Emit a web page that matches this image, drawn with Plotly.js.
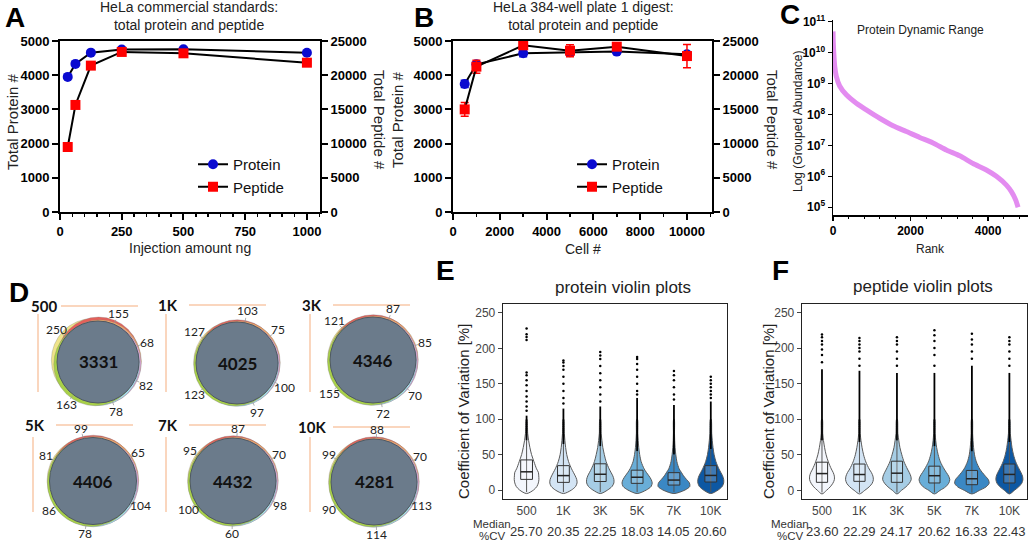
<!DOCTYPE html>
<html><head><meta charset="utf-8">
<script src="https://cdn.plot.ly/plotly-3.0.1.min.js"></script>
<style>html,body{margin:0;padding:0;background:#fff}#chart{width:1032px;height:542px}</style>
</head><body><div id="chart"></div>
<script>
// ================= DATA =================
// Panel A: HeLa commercial standards
const injectionNg = [31.25, 62.5, 125, 250, 500, 1000];
const proteinA = [3950, 4330, 4660, 4750, 4760, 4655];
const peptideA = [9500, 15650, 21400, 23400, 23200, 21830];
// Panel B: HeLa 384-well plate 1 digest
const cellCounts = [500, 1000, 3000, 5000, 7000, 10000];
const proteinB = [3745, 4318, 4640, 4670, 4690, 4610];
const proteinBErr = [105, 70, 100, 110, 60, 60];
const peptideB = [15000, 21250, 24370, 23580, 24170, 22800];
const peptideBErr = [1000, 950, 250, 880, 250, 1700];
// tick labels for A/B
const peptideTicks = [0, 5000, 10000, 15000, 20000, 25000];
const peptideTickText = ['0', '5000', '10000', '15000', '20000', '25000'];
const cellTicks = [0, 2000, 4000, 6000, 8000, 10000];
const cellTickText = ['0', '2000', '4000', '6000', '8000', '10000'];
// Panel C: protein dynamic range
const rankC = [1, 8, 20, 45, 86, 172, 344, 602, 860, 1204, 1548, 1892, 2237, 2581, 2925, 3269, 3613, 3957, 4215, 4473, 4602, 4714, 4774];
const abundanceC = [4.8e10, 2.0e10, 9.5e9, 3.5e9, 1.7e9, 8.3e8, 4.3e8, 2.3e8, 1.4e8, 7.5e7, 4.3e7, 2.8e7, 1.8e7, 1.2e7, 7.1e6, 4.6e6, 2.6e6, 1.6e6, 1.0e6, 5.2e5, 3.2e5, 1.7e5, 1.0e5];
const logTickVals = [1e5, 1e6, 1e7, 1e8, 1e9, 1e10, 1e11];
const logTickText = ['10<sup>5</sup>', '10<sup>6</sup>', '10<sup>7</sup>', '10<sup>8</sup>', '10<sup>9</sup>', '10<sup>10</sup>', '10<sup>11</sup>'];
// Panel D: Venn counts (order: yellow, red, orange, pink, cyan, green replicate)
const vennSamples = ['500', '1K', '3K', '5K', '7K', '10K'];
const vennShared = [3331, 4025, 4346, 4406, 4432, 4281];
const vennUnique = [
  [250, 155, 68, 82, 78, 163],
  [127, 103, 75, 100, 97, 123],
  [121, 87, 85, 70, 72, 155],
  [81, 99, 65, 104, 78, 86],
  [95, 87, 70, 98, 60, 100],
  [99, 88, 70, 113, 114, 90]
];
// Panels E/F: CV violins
const cvCats = ['500', '1K', '3K', '5K', '7K', '10K'];
const cvGrid = [-5, 0, 5, 10, 15, 20, 25, 30, 40, 50, 60, 70, 80, 100];
const protViolinW = [
  [0, .19, .28, .32, .335, .33, .32, .27, .2, .135, .09, .055, .03, .01],
  [0, .22, .33, .37, .36, .32, .27, .22, .14, .09, .06, .04, .025, .01],
  [0, .2, .32, .37, .37, .34, .29, .24, .16, .11, .07, .045, .025, .01],
  [0, .25, .38, .41, .38, .32, .25, .19, .11, .07, .045, .03, .02, .01],
  [0, .3, .43, .42, .34, .26, .2, .14, .08, .05, .03, .02, .015, .008],
  [0, .2, .31, .35, .35, .32, .27, .22, .14, .09, .06, .04, .025, .01]
];
const protQ1 = [15, 10.8, 12, 9.4, 7, 11.3];
const protQ3 = [42.5, 34.4, 37, 28, 24.5, 34.4];
const protMedian = [25.70, 20.35, 22.25, 18.03, 14.05, 20.60];
const protDenseLo = [70, 65, 62, 55, 50, 58];
const protDenseHi = [105, 115, 118, 130, 120, 125];
const protOutliers = [
  [112, 118, 125, 132, 140, 148, 155, 162, 166, 212, 216, 220, 228],
  [122, 130, 140, 150, 160, 170, 175, 180, 183],
  [125, 135, 145, 155, 165, 175, 185, 190, 195],
  [135, 140, 150, 160, 170, 178, 185, 188],
  [128, 135, 145, 155, 162, 168],
  [130, 135, 140, 145, 150, 155, 160]
];
const pepViolinW = [
  [0, .12, .22, .29, .33, .33, .3, .25, .17, .11, .07, .04, .02, .01],
  [0, .14, .26, .34, .37, .36, .32, .26, .17, .11, .07, .04, .02, .01],
  [0, .12, .24, .33, .38, .37, .33, .28, .19, .13, .08, .05, .025, .01],
  [0, .15, .3, .38, .41, .38, .32, .26, .16, .1, .06, .035, .02, .01],
  [0, .2, .38, .46, .44, .36, .28, .21, .12, .07, .045, .03, .02, .01],
  [0, .13, .25, .33, .36, .35, .31, .26, .17, .11, .07, .045, .025, .01]
];
const pepQ1 = [11.3, 12.7, 11.3, 10.4, 8, 10.4];
const pepQ3 = [39.6, 37, 41, 34, 28, 37];
const pepMedian = [23.60, 22.29, 24.17, 20.62, 16.33, 22.43];
const pepDenseLo = [70, 68, 70, 62, 55, 68];
const pepDenseHi = [170, 168, 165, 165, 175, 165];
const pepOutliers = [
  [180, 190, 198, 205, 210, 215, 219],
  [175, 185, 195, 200, 205, 210, 214],
  [175, 185, 195, 205, 210, 215],
  [175, 190, 200, 210, 218, 225],
  [185, 195, 205, 212, 220],
  [175, 185, 195, 205, 210, 215]
];

// ================= STYLE / LAYOUT =================
const W = 1032, H = 542;
const FONT = 'Arial, "Liberation Sans", sans-serif';
const VFONT = 'Lato, "Open Sans", sans-serif';
const px = v => v / W, py = v => 1 - v / H;
const violinColors = ['#f3f6fc', '#d3e4f4', '#a6cde5', '#69aed8', '#3b88c4', '#0d58a3'];

const traces = [];
// A
traces.push({type:'scatter', mode:'lines+markers', name:'Protein', x:injectionNg, y:proteinA, xaxis:'x', yaxis:'y',
  line:{color:'#000', width:2}, marker:{symbol:'circle', size:10, color:'#0a0ad0'}, legend:'legend'});
traces.push({type:'scatter', mode:'lines+markers', name:'Peptide', x:injectionNg, y:peptideA, xaxis:'x', yaxis:'y2',
  line:{color:'#000', width:2}, marker:{symbol:'square', size:10, color:'#ff0000'}, legend:'legend'});
// B
traces.push({type:'scatter', mode:'lines+markers', name:'Protein', x:cellCounts, y:proteinB, xaxis:'x2', yaxis:'y3',
  error_y:{type:'data', array:proteinBErr, color:'#0a0ad0', thickness:1.5, width:4},
  line:{color:'#000', width:2}, marker:{symbol:'circle', size:10, color:'#0a0ad0'}, legend:'legend2'});
traces.push({type:'scatter', mode:'lines+markers', name:'Peptide', x:cellCounts, y:peptideB, xaxis:'x2', yaxis:'y4',
  error_y:{type:'data', array:peptideBErr, color:'#ff0000', thickness:1.5, width:4},
  line:{color:'#000', width:2}, marker:{symbol:'square', size:10, color:'#ff0000'}, legend:'legend2'});
// C
traces.push({type:'scatter', mode:'lines', x:rankC, y:abundanceC, xaxis:'x3', yaxis:'y5', showlegend:false,
  line:{color:'#e38cf0', width:5, shape:'spline', smoothing:0.6}});

function addViolins(xa, ya, Wd, q1, q3, med, dLo, dHi, outl, bhw) {
  for (let i = 0; i < cvCats.length; i++) {
    const xs = [], ys = [];
    cvGrid.forEach((y, k) => { xs.push(i + Wd[i][k]); ys.push(y); });
    for (let k = cvGrid.length - 1; k >= 0; k--) { xs.push(i - Wd[i][k]); ys.push(cvGrid[k]); }
    traces.push({type:'scatter', mode:'lines', x:xs, y:ys, fill:'toself', fillcolor:violinColors[i],
      line:{color:'#5a5a5a', width:1, shape:'spline', smoothing:0.8}, xaxis:xa, yaxis:ya, showlegend:false});
    traces.push({type:'scatter', mode:'lines', x:[i, i], y:[-3, dLo[i]], line:{color:'#555', width:1},
      xaxis:xa, yaxis:ya, showlegend:false});
    traces.push({type:'scatter', mode:'lines', x:[i, i], y:[dLo[i], dHi[i]], line:{color:'#000', width:1.8},
      xaxis:xa, yaxis:ya, showlegend:false});
    traces.push({type:'scatter', mode:'markers', x:outl[i].map(() => i), y:outl[i], marker:{color:'#000', size:2.5},
      xaxis:xa, yaxis:ya, showlegend:false});
    traces.push({type:'scatter', mode:'lines', x:[i-bhw, i+bhw, i+bhw, i-bhw, i-bhw], y:[q1[i], q1[i], q3[i], q3[i], q1[i]],
      fill:'toself', fillcolor:'rgba(255,255,255,0.2)', line:{color:'#333', width:1}, xaxis:xa, yaxis:ya, showlegend:false});
    traces.push({type:'scatter', mode:'lines', x:[i-bhw, i+bhw], y:[med[i], med[i]], line:{color:'#222', width:1.5},
      xaxis:xa, yaxis:ya, showlegend:false});
  }
}
addViolins('x4', 'y6', protViolinW, protQ1, protQ3, protMedian, protDenseLo, protDenseHi, protOutliers, 0.16);
addViolins('x5', 'y7', pepViolinW, pepQ1, pepQ3, pepMedian, pepDenseLo, pepDenseHi, pepOutliers, 0.15);

// axes
const bold13 = {family:FONT, size:13, weight:'bold', color:'#000'};
const baseAx = {showgrid:false, zeroline:false, showline:true, linecolor:'#000', linewidth:2, ticks:'outside',
  ticklen:6, tickwidth:2, tickcolor:'#000', tickfont:bold13, fixedrange:true};
const yDomAB = [py(212), py(41)];
const cvAx = {showgrid:false, zeroline:false, showline:true, linecolor:'#222', linewidth:1.3, mirror:true,
  ticks:'outside', ticklen:4, tickwidth:1, tickcolor:'#444', tickfont:{family:FONT, size:12, color:'#444'}};

const layout = {
  width:W, height:H, margin:{l:0, r:0, t:0, b:0, pad:0}, paper_bgcolor:'#fff', plot_bgcolor:'rgba(0,0,0,0)',
  hovermode:false,
  xaxis: Object.assign({}, baseAx, {domain:[px(60), px(320)], range:[0, 1053], tick0:0, dtick:250, anchor:'y', mirror:true,
    minor:{dtick:50, tick0:0, ticks:'outside', ticklen:3, tickwidth:1.5, tickcolor:'#000'}}),
  yaxis: Object.assign({}, baseAx, {domain:yDomAB, range:[0, 5000], dtick:1000, anchor:'x'}),
  yaxis2: Object.assign({}, baseAx, {overlaying:'y', side:'right', range:[0, 25000], anchor:'x',
    tickmode:'array', tickvals:peptideTicks, ticktext:peptideTickText}),
  xaxis2: Object.assign({}, baseAx, {domain:[px(453), px(712)], range:[0, 11070], anchor:'y3', mirror:true,
    tickmode:'array', tickvals:cellTicks, ticktext:cellTickText,
    minor:{dtick:1000, tick0:0, ticks:'outside', ticklen:3, tickwidth:1.5, tickcolor:'#000'}}),
  yaxis3: Object.assign({}, baseAx, {domain:yDomAB, range:[0, 5000], dtick:1000, anchor:'x2'}),
  yaxis4: Object.assign({}, baseAx, {overlaying:'y3', side:'right', range:[0, 25000], anchor:'x2',
    tickmode:'array', tickvals:peptideTicks, ticktext:peptideTickText}),
  xaxis3: Object.assign({}, baseAx, {domain:[px(833), px(1028)], range:[0, 5030], tick0:0, dtick:2000, anchor:'y5',
    linewidth:1.5, ticklen:4, tickwidth:1.5, tickfont:{family:FONT, size:12, weight:'bold', color:'#000'},
    minor:{dtick:400, tick0:0, ticks:'outside', ticklen:2, tickwidth:1, tickcolor:'#000'}}),
  yaxis5: Object.assign({}, baseAx, {type:'log', domain:[py(215), py(20)], range:[4.75, 11.05], anchor:'x3',
    tickmode:'array', tickvals:logTickVals, ticktext:logTickText,
    linewidth:1.5, ticklen:4, tickwidth:1.5, tickfont:{family:FONT, size:12, weight:'bold', color:'#000'}}),
  xaxis4: Object.assign({}, cvAx, {domain:[px(503), px(727)], range:[-0.64, 5.44], anchor:'y6', ticks:'',
    tickmode:'array', tickvals:[0, 1, 2, 3, 4, 5], ticktext:cvCats}),
  yaxis6: Object.assign({}, cvAx, {domain:[py(499), py(304)], range:[-12.7, 262.7], anchor:'x4',
    tickmode:'array', tickvals:[0, 50, 100, 150, 200, 250]}),
  xaxis5: Object.assign({}, cvAx, {domain:[px(802), px(1027)], range:[-0.533, 5.47], anchor:'y7', ticks:'',
    tickmode:'array', tickvals:[0, 1, 2, 3, 4, 5], ticktext:cvCats}),
  yaxis7: Object.assign({}, cvAx, {domain:[py(499), py(304)], range:[-12.1, 261.8], anchor:'x5',
    tickmode:'array', tickvals:[0, 50, 100, 150, 200, 250]}),
  legend: {x:px(193), y:py(148), xanchor:'left', yanchor:'top', bgcolor:'rgba(0,0,0,0)',
    font:{family:FONT, size:15, color:'#111'}, tracegroupgap:0},
  legend2: {x:px(572), y:py(148), xanchor:'left', yanchor:'top', bgcolor:'rgba(0,0,0,0)',
    font:{family:FONT, size:15, color:'#111'}, tracegroupgap:0},
  annotations: [], shapes: []
};

function ann(text, x, y, o) {
  o = o || {};
  layout.annotations.push({text:text, x:px(x), y:py(y), xref:'paper', yref:'paper', showarrow:false,
    xanchor:o.xanchor || 'center', yanchor:o.yanchor || 'middle', textangle:o.angle || 0, align:o.align || 'center',
    font:{family:o.family || FONT, size:o.size || 14, color:o.color || '#222', weight:o.weight || 'normal'}});
}
// panel letters
[['A', 15, 18], ['B', 424, 17], ['C', 790, 15], ['D', 19, 292], ['E', 445, 270], ['F', 780, 270]]
  .forEach(l => ann(l[0], l[1], l[2], {size:28, weight:'bold', color:'#000'}));
// A / B titles
ann('HeLa commercial standards:<br>total protein and peptide', 189, 16, {size:14});
ann('HeLa 384-well plate 1 digest:<br>total protein and peptide', 583, 16, {size:14});
ann('Injection amount ng', 190, 248, {size:14});
ann('Cell #', 583, 249, {size:14});
ann('Total Protein #', 12, 122, {size:15, angle:-90});
ann('Total Peptide #', 380, 120, {size:15, angle:90});
ann('Total Protein #', 397, 120, {size:15, angle:-90});
ann('Total Peptide #', 773, 120, {size:15, angle:90});
// C
ann('Protein Dynamic Range', 920, 30, {size:12});
ann('Log (Grouped Abundance)', 798, 122, {size:12, angle:-90});
ann('Rank', 930, 249, {size:12});
// E / F
ann('protein violin plots', 623, 287, {size:17});
ann('peptide violin plots', 923, 286, {size:17});
ann('Coefficient of Variation [%]', 463, 412, {size:15, angle:-90});
ann('Coefficient of Variation [%]', 768, 412, {size:15, angle:-90});
ann('Median', 492, 524, {size:11.5, color:'#333'});
ann('%CV', 492, 536, {size:11.5, color:'#333'});
ann('Median', 790, 524, {size:11.5, color:'#333'});
ann('%CV', 790, 536, {size:11.5, color:'#333'});
const eX = i => 526.6 + i * 36.84, fX = i => 822 + i * 37.48;
protMedian.forEach((m, i) => ann(m.toFixed(2), eX(i), 531, {size:13, color:'#333'}));
pepMedian.forEach((m, i) => ann(m.toFixed(2), fX(i), 531, {size:13, color:'#333'}));

// D: Venn diagrams (positions are layout only)
const vennCenters = [[98, 362], [237, 363], [373, 360], [93, 481], [233, 481], [374, 482]];
const vennR = [41, 41, 43, 43.5, 43, 43];
const vennLabelDist = [12, 12, 12, 10, 10, 10];
const vennTitlePos = [[44, 306], [168, 305], [312, 305], [35, 425], [168, 425], [312, 427]];
const vennLabelAng = [[142, 67, 22, -26, -70, -127], [144, 79, 39, -27, -68, -143], [134, 69, 19, -40, -79, -143],
  [152, 103, 32, -27, -99, -146], [145, 85, 30, -27, -91, -148], [149, 87, 29, -26, -87, -149]];
const ringColors = ['#efe48a', '#e4605a', '#f0a868', '#dca8d8', '#a8e0ec', '#a8d048'];
const ringDir = [160, 80, 20, -35, -85, -140];
const ringOff = [[5.5, 3.5, 2, 2, 2, 3.5], [2, 1.8, 1.8, 1.8, 1.8, 2.2], [2, 1.8, 1.8, 1.8, 1.8, 2.6],
  [2, 1.8, 1.8, 1.8, 1.8, 2.2], [2, 1.8, 1.8, 1.8, 1.8, 2.2], [2, 1.8, 1.8, 1.8, 1.8, 2.2]];
function circle(cx, cy, r, fill, line, lw) {
  layout.shapes.push({type:'circle', xref:'paper', yref:'paper', x0:px(cx - r), x1:px(cx + r), y0:py(cy + r), y1:py(cy - r),
    fillcolor:fill, line:{color:line, width:lw}});
}
function seg(x0, y0, x1, y1, color, w) {
  layout.shapes.push({type:'line', xref:'paper', yref:'paper', x0:px(x0), x1:px(x1), y0:py(y0), y1:py(y1), line:{color:color, width:w}});
}
vennSamples.forEach((s, d) => {
  const [cx, cy] = vennCenters[d], r = vennR[d];
  const [tx, ty] = vennTitlePos[d];
  const lx = d === 0 ? tx - 4 : tx;
  seg(lx + 21, ty, lx + 98, ty, '#f8c9a8', 1.5);
  const vTop = d < 3 ? 314 : 437, vBot = d < 3 ? 392 : 512;
  seg(lx - 2, vTop, lx - 2, vBot, '#f8c9a8', 1.5);
  ann(s, tx, ty, {size:15, weight:'bold', color:'#111', family:VFONT});
  ringColors.forEach((c, k) => {
    const a = ringDir[k] * Math.PI / 180, o = ringOff[d][k];
    circle(cx + o * Math.cos(a), cy - o * Math.sin(a), r + 0.5, c, 'rgba(120,120,120,0.5)', 0.6);
  });
  circle(cx, cy, r, '#6b7b8b', '#4e5863', 1);
  ann(String(vennShared[d]), cx, cy, {size:17, weight:'bold', color:'#111', family:VFONT});
  vennUnique[d].forEach((v, k) => {
    const a = vennLabelAng[d][k] * Math.PI / 180, dist = r + vennLabelDist[d];
    seg(cx + (r + 1) * Math.cos(a), cy - (r + 1) * Math.sin(a), cx + (r + 5) * Math.cos(a), cy - (r + 5) * Math.sin(a), '#999', 0.8);
    ann(String(v), cx + dist * Math.cos(a), cy - dist * Math.sin(a), {size:12, color:'#222', family:VFONT});
  });
});

Plotly.newPlot('chart', traces, layout, {displayModeBar:false, staticPlot:true});
</script></body></html>
